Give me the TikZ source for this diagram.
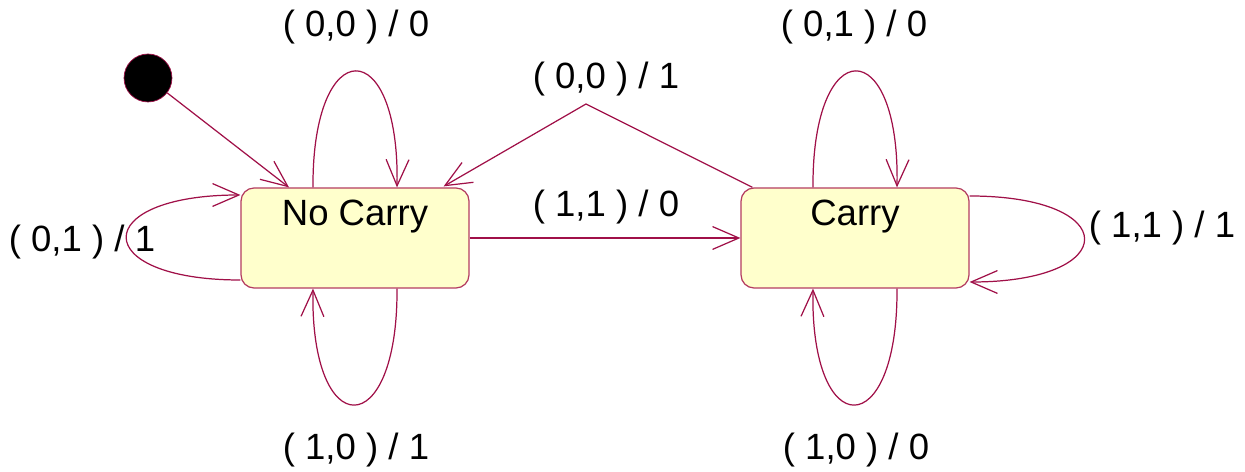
\documentclass[tikz,border=0pt]{standalone}
\usepackage{fontspec}
\setmainfont{Liberation Sans}
\usepackage{tikz}
\usetikzlibrary{arrows.meta, positioning, calc}

\definecolor{wire}{RGB}{160,16,72}
\definecolor{edge}{RGB}{180,60,96}
\definecolor{pale}{RGB}{255,255,204}

\tikzset{
  state/.style={draw=edge, fill=pale, line width=0.7pt, rounded corners=0.26cm,
    minimum width=4.56cm, inner sep=0pt, text height=0.76cm, text depth=1.24cm},
  tr/.style={draw=wire, line width=0.7pt,
    -{Straight Barb[length=15pt,width=13pt,line width=0.7pt]}},
  lbl/.style={inner sep=0pt},
}

\begin{document}
\begin{tikzpicture}[x=0.02cm,y=-0.02cm,font=\fontsize{20.8}{24}\selectfont]

\useasboundingbox (0,0) rectangle (1245,472);

% PARAMETERS
\def\LH{155}   % reach of the control points of a self loop
\def\DX{42}    % half spread of a loop on the top/bottom edge

% ------------------------
% States
% ------------------------
\node[circle, fill=black, draw=wire, minimum size=0.96cm, inner sep=0pt] (init) at (148,78) {};
\node[state] (nc) at (355,238) {No Carry};
\node[state] (c)  at (855,238) {Carry};

% ------------------------
% Initial transition
% ------------------------
\draw[tr] (init) -- ($(nc.north)+(-66,0)$);

% ------------------------
% Loops on No Carry
% ------------------------
% top
\draw[tr] ($(nc.north)+(-\DX,0)$)
  .. controls ($(nc.north)+(-\DX-1,-\LH)$) and ($(nc.north)+(\DX+3,-\LH)$)
  .. ($(nc.north)+(\DX,0)$);
\node[lbl] (l00a) at (356,27) {( 0,0 ) / 0};

% left
\draw[tr] ($(nc.west)+(0,42)$)
  .. controls ($(nc.west)+(-152,42)$) and ($(nc.west)+(-152,-43)$)
  .. ($(nc.west)+(0,-43)$);
\node[lbl] (l01a) at (82,242) {( 0,1 ) / 1};

% bottom
\draw[tr] ($(nc.south)+(\DX,0)$)
  .. controls ($(nc.south)+(\DX+1,\LH)$) and ($(nc.south)+(-\DX-3,\LH)$)
  .. ($(nc.south)+(-\DX,0)$);
\node[lbl] (l10a) at (356,450) {( 1,0 ) / 1};

% ------------------------
% Loops on Carry
% ------------------------
% top
\draw[tr] ($(c.north)+(-\DX,0)$)
  .. controls ($(c.north)+(-\DX-1,-\LH)$) and ($(c.north)+(\DX+3,-\LH)$)
  .. ($(c.north)+(\DX,0)$);
\node[lbl] (l01b) at (854,27) {( 0,1 ) / 0};

% right
\draw[tr] ($(c.east)+(0,-42)$)
  .. controls ($(c.east)+(153,-42)$) and ($(c.east)+(153,44)$)
  .. ($(c.east)+(0,44)$);
\node[lbl] (l11b) at (1162,228) {( 1,1 ) / 1};

% bottom
\draw[tr] ($(c.south)+(\DX,0)$)
  .. controls ($(c.south)+(\DX+1,\LH)$) and ($(c.south)+(-\DX-3,\LH)$)
  .. ($(c.south)+(-\DX,0)$);
\node[lbl] (l10b) at (856,450) {( 1,0 ) / 0};

% ------------------------
% Between the states
% ------------------------
\draw[tr] (nc.east) -- (c.west);
\node[lbl] (l11a) at (606,207) {( 1,1 ) / 0};

\coordinate (peak) at (586,104);
\draw[tr] ($(c.north west)+(12,0)$) -- (peak) -- ($(nc.north east)+(-26,-1)$);
\node[lbl] (l00b) at (606,79) {( 0,0 ) / 1};

\end{tikzpicture}
\end{document}
